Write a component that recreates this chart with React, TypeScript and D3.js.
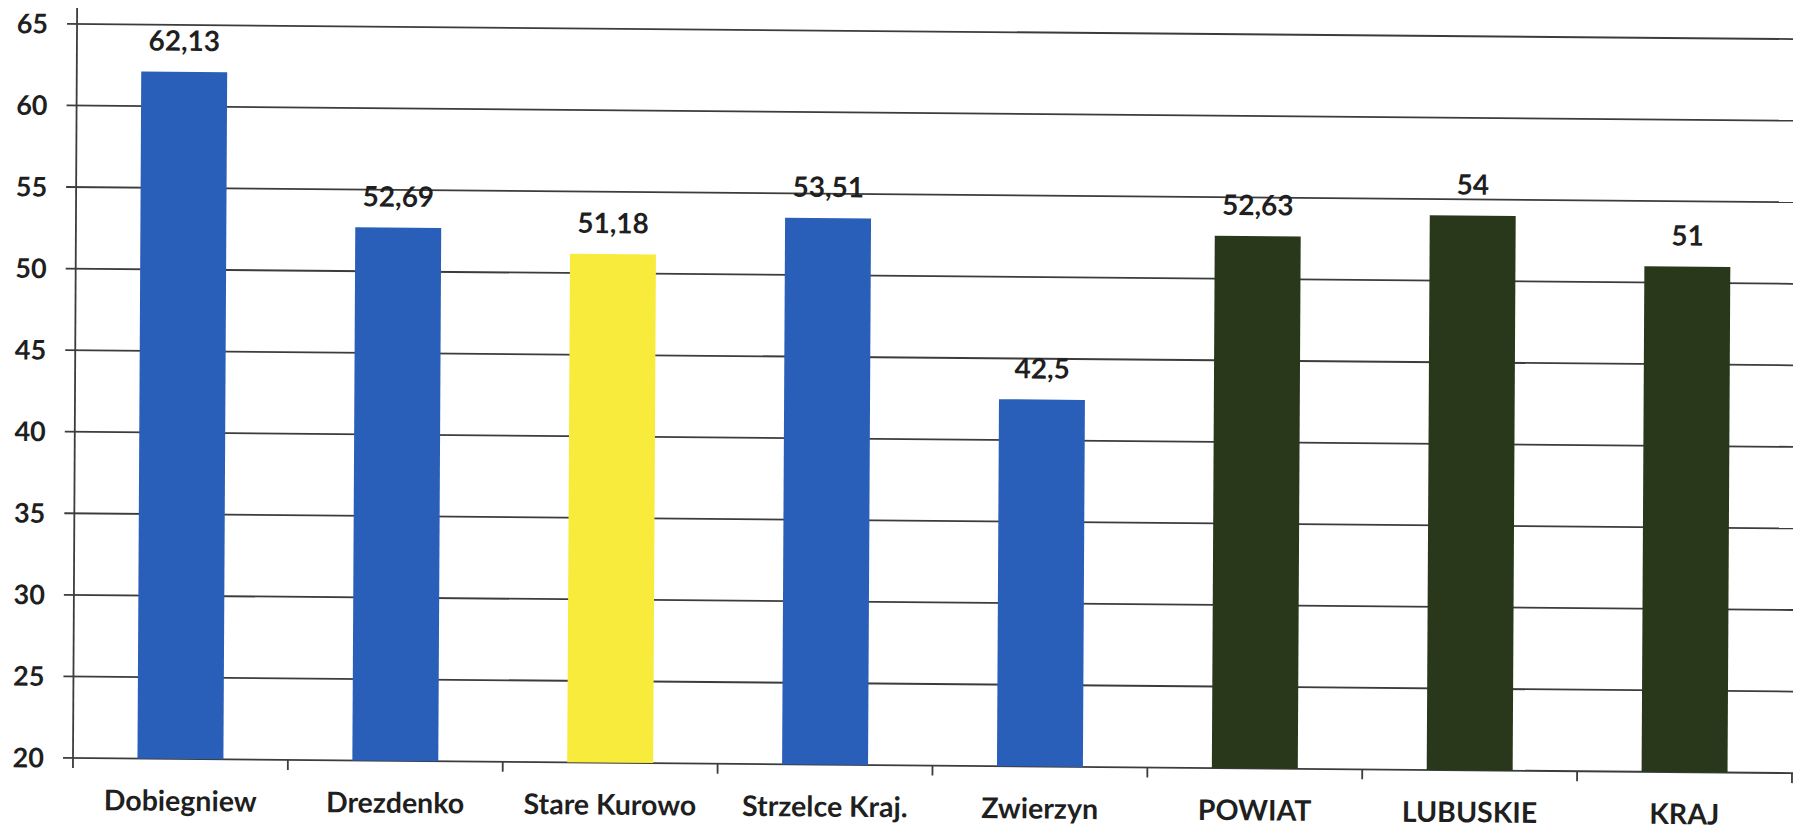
import React from "react";
import * as d3 from "d3";

const categories = ["Dobiegniew", "Drezdenko", "Stare Kurowo", "Strzelce Kraj.", "Zwierzyn", "POWIAT", "LUBUSKIE", "KRAJ"];
const values = [62.13, 52.69, 51.18, 53.51, 42.5, 52.63, 54, 51];
const valueLabels = ["62,13", "52,69", "51,18", "53,51", "42,5", "52,63", "54", "51"];
const groups = ["gmina", "gmina", "highlight", "gmina", "gmina", "region", "region", "region"];
const yTicks = [20, 25, 30, 35, 40, 45, 50, 55, 60, 65];

const W = 1793;
const H = 829;
const plot = { left: 73, right: 1792, top: 24, bottom: 758 };
const colorFor: Record<string, string> = {
  gmina: "#2a5fb9",
  highlight: "#f8eb3c",
  region: "#29381b",
};
const FONT = "Lato, 'Open Sans', sans-serif";
const INK = "#1f1f1f";
const LINE = "#3c3c3c";

// slight scan skew of the original page
const skewX = -0.0055;
const skewY = 0.0088;
const pageTransform = `matrix(1, ${skewY}, ${skewX}, 1, ${-skewX * plot.bottom}, ${-skewY * plot.left})`;

export default function App() {
  const xBand = d3.scaleBand<string>().domain(categories).range([plot.left, plot.right]);
  const x = d3
    .scaleBand<string>()
    .domain(categories)
    .range([plot.left, plot.right])
    .paddingInner(0.6)
    .paddingOuter(0.3);
  const y = d3.scaleLinear().domain([20, 65]).range([plot.bottom, plot.top]);
  const y0 = y(20);

  return (
    <svg width={W} height={H} style={{ position: "absolute", left: 0, top: 0, background: "#fff" }}>
      <g transform={pageTransform}>
        {yTicks.map((t) => (
          <g key={t}>
            <line x1={plot.left - 10} x2={W + 10} y1={y(t)} y2={y(t)} stroke={LINE} strokeWidth={1.8} />
            <text
              x={plot.left - 29}
              y={y(t)}
              dy="0.36em"
              textAnchor="end"
              fontFamily={FONT}
              fontWeight={700}
              fontSize={27}
              fill={INK}
            >
              {t}
            </text>
          </g>
        ))}
        <line x1={plot.left} x2={plot.left} y1={y(65) - 16} y2={y0 + 10} stroke={LINE} strokeWidth={1.8} />
        {categories.map((c) => (
          <line
            key={"t" + c}
            x1={(xBand(c) as number) + xBand.bandwidth()}
            x2={(xBand(c) as number) + xBand.bandwidth()}
            y1={y0}
            y2={y0 + 10}
            stroke={LINE}
            strokeWidth={1.8}
          />
        ))}
        {categories.map((c, i) => (
          <g key={c}>
            <rect
              x={x(c)}
              y={y(values[i])}
              width={x.bandwidth()}
              height={y0 - y(values[i])}
              fill={colorFor[groups[i]]}
            />
            <text
              x={(x(c) as number) + x.bandwidth() / 2}
              y={y(values[i]) - 21}
              textAnchor="middle"
              fontFamily={FONT}
              fontWeight={700}
              fontSize={28}
              fill={INK}
            >
              {valueLabels[i]}
            </text>
            <text
              x={(x(c) as number) + x.bandwidth() / 2}
              y={810}
              textAnchor="middle"
              fontFamily={FONT}
              fontWeight={700}
              fontSize={28.5}
              fill={INK}
            >
              {c}
            </text>
          </g>
        ))}
      </g>
    </svg>
  );
}
